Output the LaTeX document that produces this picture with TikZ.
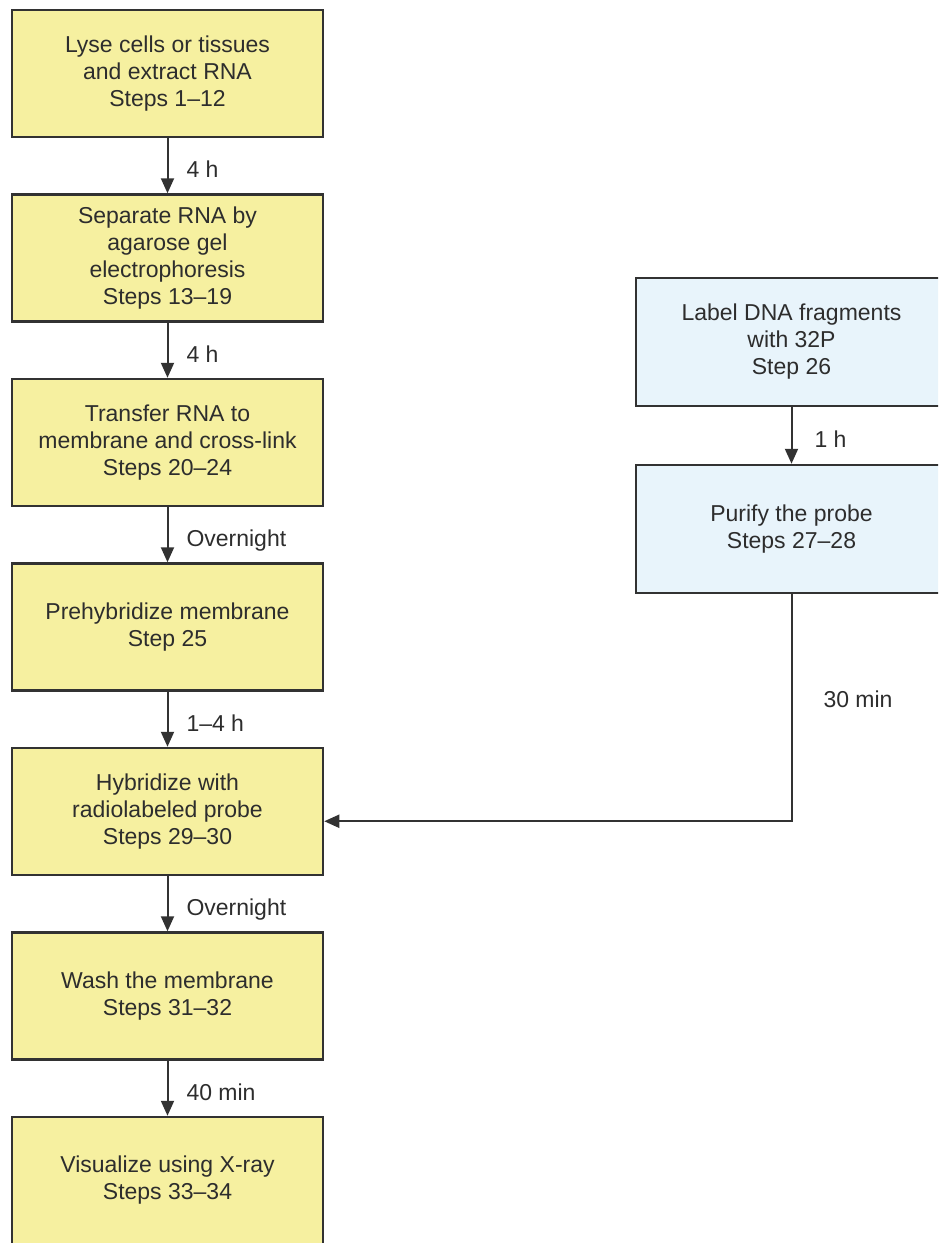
\documentclass[tikz,border=0pt]{standalone}
\usepackage{fontspec}
\setmainfont{Liberation Sans}
\usetikzlibrary{positioning,arrows.meta,calc}
\definecolor{rnafill}{RGB}{246,240,160}
\definecolor{probefill}{RGB}{232,244,251}
\definecolor{edgegray}{RGB}{50,50,50}
\definecolor{ink}{RGB}{45,45,45}
\tikzset{
  stepbox/.style={draw=edgegray,line width=2.5pt,minimum width=311pt,minimum height=127pt,
    inner sep=0pt,align=center,text=ink,font=\fontsize{23}{27}\selectfont},
  rnabox/.style={stepbox,fill=rnafill},
  probebox/.style={stepbox,fill=probefill,minimum height=128pt},
  flow/.style={-{Triangle[length=15pt,width=13pt]},line width=2pt,draw=edgegray},
  dur/.style={anchor=base west,inner sep=0pt,text=ink,font=\fontsize{23}{27}\selectfont,
    xshift=18pt,yshift=-12pt},
}

\begin{document}
\begin{tikzpicture}[x=1pt,y=-1pt,node distance=55pt]
  \useasboundingbox (0,0) rectangle (938,1243);
  \clip (0,0) rectangle (938,1243);
  % RNA column
  \node[rnabox] (lyse) at (167.5,73.5) {Lyse cells or tissues\\and extract RNA\\Steps 1–12};
  \node[rnabox,below=of lyse] (gel) {Separate RNA by\\agarose gel\\electrophoresis\\Steps 13–19};
  \node[rnabox,below=of gel] (blot) {Transfer RNA to\\membrane and cross-link\\Steps 20–24};
  \node[rnabox,below=of blot] (prehyb) {Prehybridize membrane\\Step 25};
  \node[rnabox,below=of prehyb] (hyb) {Hybridize with\\radiolabeled probe\\Steps 29–30};
  \node[rnabox,below=of hyb] (wash) {Wash the membrane\\Steps 31–32};
  \node[rnabox,below=of wash] (xray) {Visualize using X-ray\\Steps 33–34};
  % probe column
  \node[probebox] (label) at (791.5,342) {Label DNA fragments\\with 32P\\Step 26};
  \node[probebox,below=56.5pt of label] (purify) {Purify the probe\\Steps 27–28};

  \draw[flow] (lyse) -- node[dur,midway]{4 h} (gel);
  \draw[flow] (gel) -- node[dur,midway]{4 h} (blot);
  \draw[flow] (blot) -- node[dur,midway]{Overnight} (prehyb);
  \draw[flow] (prehyb) -- node[dur,midway]{1–4 h} (hyb);
  \draw[flow] (hyb) -- node[dur,midway]{Overnight} (wash);
  \draw[flow] (wash) -- node[dur,midway]{40 min} (xray);
  \draw[flow] (label) -- node[dur,midway,xshift=4pt]{1 h} (purify);

  \coordinate (turn) at ($(purify.south)+(0,227)$);
  \draw[flow] (purify.south) -- node[dur,midway,xshift=13pt,yshift=12pt]{30 min} (turn) -- (turn -| hyb.east);
\end{tikzpicture}
\end{document}
